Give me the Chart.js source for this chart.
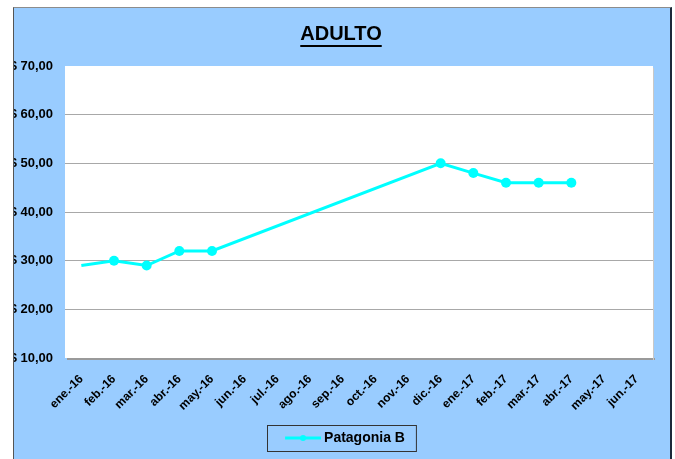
<!DOCTYPE html>
<html>
<head>
<meta charset="utf-8">
<script src="https://cdn.jsdelivr.net/npm/chart.js@4/dist/chart.umd.min.js"></script>
<style>
    body { margin: 0; background: #fff; }
    #frame {
        position: absolute;
        left: 13px;
        top: 7px;
        width: 656px;
        height: 452px;
        border-top: 1px solid #8c8c8c;
        border-left: 1px solid #555;
        border-right: 2px solid #1c2a3a;
        background: #99ccff;
    }
    #wrap { position: relative; width: 656px; height: 452px; }
</style>
</head>
<body>
<div id="frame">
    <div id="wrap"><canvas id="adultoChart"></canvas></div>
</div>
<script>
// Data
const months = ['ene.-16', 'feb.-16', 'mar.-16', 'abr.-16', 'may.-16', 'jun.-16', 'jul.-16', 'ago.-16',
    'sep.-16', 'oct.-16', 'nov.-16', 'dic.-16', 'ene.-17', 'feb.-17', 'mar.-17', 'abr.-17', 'may.-17', 'jun.-17'];
const patagoniaB = [29, 30, 29, 32, 32, null, null, null, null, null, null, 50, 48, 46, 46, 46, null, null];
const yTicks = [10, 20, 30, 40, 50, 60, 70];

// Colors
const lineColor = '#00ffff';
const gridColor = '#a8a8a8';
const textColor = '#000';
const fontFamily = '"Liberation Sans", Arial, sans-serif';

// legend sample: line with a small dot (image is centered on the 40px legend box)
const sample = document.createElement('canvas');
sample.width = 48;
sample.height = 10;
const sctx = sample.getContext('2d');
sctx.strokeStyle = lineColor;
sctx.lineWidth = 3;
sctx.beginPath();
sctx.moveTo(12, 5);
sctx.lineTo(48, 5);
sctx.stroke();
sctx.fillStyle = lineColor;
sctx.beginPath();
sctx.arc(30, 5, 3, 0, Math.PI * 2);
sctx.fill();

// white plot area with grey shadow, title underline, legend frame
const decor = {
    id: 'decor',
    beforeDraw(chart) {
        const { ctx, chartArea: a } = chart;
        ctx.save();
        ctx.fillStyle = '#fff';
        ctx.fillRect(a.left, a.top, a.right - a.left, a.bottom - a.top);
        ctx.fillStyle = '#9a9a9a';
        ctx.fillRect(a.left + 2, a.bottom, a.right - a.left, 2);
        ctx.fillStyle = '#c8c8c8';
        ctx.fillRect(a.right, a.top + 2, 1, a.bottom - a.top);
        ctx.restore();
    },
    afterDraw(chart) {
        const { ctx } = chart;
        ctx.save();
        // title underline
        const t = chart.titleBlock;
        ctx.font = 'bold 20px ' + fontFamily;
        const tw = ctx.measureText('ADULTO').width;
        const cx = (t.left + t.right) / 2;
        const uy = t.top + 14 + 23;
        ctx.fillStyle = '#000';
        ctx.fillRect(cx - tw / 2, uy, tw, 2);
        // legend frame
        const hb = chart.legend.legendHitBoxes[0];
        if (hb) {
            const cy = hb.top + hb.height / 2;
            ctx.strokeStyle = '#333';
            ctx.lineWidth = 1;
            ctx.strokeRect(Math.round(hb.left - 10) + 0.5, Math.round(cy - 13) + 0.5, hb.width + 21, 26);
        }
        ctx.restore();
    }
};

new Chart(document.getElementById('adultoChart'), {
    type: 'line',
    data: {
        labels: months,
        datasets: [{
            label: 'Patagonia B',
            data: patagoniaB,
            borderColor: lineColor,
            backgroundColor: lineColor,
            borderWidth: 3,
            pointRadius: patagoniaB.map((v, i) => i === 0 ? 0 : 5),
            pointHoverRadius: 5,
            pointBackgroundColor: lineColor,
            pointBorderWidth: 0,
            spanGaps: true,
            tension: 0
        }]
    },
    options: {
        responsive: true,
        maintainAspectRatio: false,
        devicePixelRatio: 1,
        animation: false,
        layout: { padding: { left: 0, right: 2, top: 0, bottom: 5 } },
        scales: {
            x: {
                offset: true,
                grid: { display: false },
                border: { display: false },
                ticks: {
                    color: textColor,
                    font: { family: fontFamily, size: 12, weight: 'bold' },
                    minRotation: 45,
                    maxRotation: 45,
                    autoSkip: false,
                    padding: 6
                },
                afterFit(scale) { scale.height = 63; }
            },
            y: {
                min: yTicks[0],
                max: yTicks[yTicks.length - 1],
                afterBuildTicks(scale) { scale.ticks = yTicks.map(v => ({ value: v })); },
                grid: {
                    drawTicks: false,
                    color: c => (c.tick.value === 70 || c.tick.value === 10) ? 'rgba(0,0,0,0)' : gridColor,
                    lineWidth: 1
                },
                border: { display: false },
                ticks: {
                    color: textColor,
                    font: { family: fontFamily, size: 13, weight: 'bold' },
                    padding: 12,
                    callback: v => '$ ' + v.toFixed(2).replace('.', ',')
                },
                afterFit(scale) { scale.width = 51; }
            },
            // empty spacer on the right so title and legend stay centred on the frame
            yRight: {
                position: 'right',
                min: 0,
                max: 1,
                grid: { display: false },
                border: { display: false },
                ticks: { display: false },
                afterFit(scale) { scale.width = 15; }
            }
        },
        plugins: {
            title: {
                display: true,
                text: 'ADULTO',
                color: textColor,
                font: { family: fontFamily, size: 20, weight: 'bold' },
                padding: { top: 14, bottom: 20 }
            },
            legend: {
                position: 'bottom',
                labels: {
                    color: textColor,
                    font: { family: fontFamily, size: 14, weight: 'bold' },
                    usePointStyle: true,
                    pointStyle: sample,
                    pointStyleWidth: 40,
                    padding: 10
                }
            },
            tooltip: { enabled: false }
        }
    },
    plugins: [decor]
});
</script>
</body>
</html>
